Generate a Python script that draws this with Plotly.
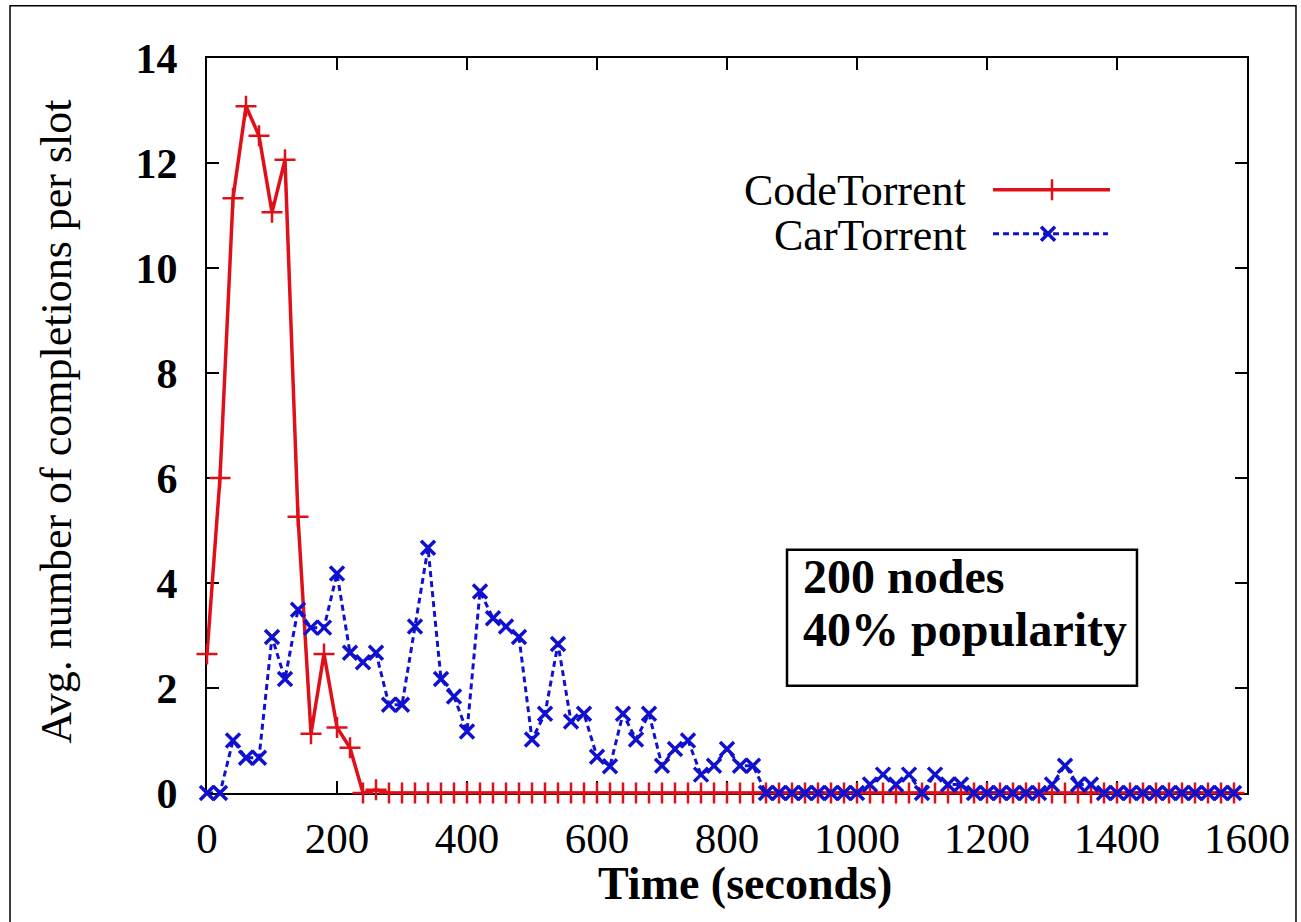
import plotly.graph_objects as go

# ---- data ----
time_s = [0, 20, 40, 60, 80, 100, 120, 140, 160, 180, 200, 220, 240, 260, 280, 300,
          320, 340, 360, 380, 400, 420, 440, 460, 480, 500, 520, 540, 560, 580, 600,
          620, 640, 660, 680, 700, 720, 740, 760, 780, 800, 820, 840, 860, 880, 900,
          920, 940, 960, 980, 1000, 1020, 1040, 1060, 1080, 1100, 1120, 1140, 1160,
          1180, 1200, 1220, 1240, 1260, 1280, 1300, 1320, 1340, 1360, 1380, 1400,
          1420, 1440, 1460, 1480, 1500, 1520, 1540, 1560, 1580]

code_torrent = [2.65, 6.0, 11.33, 13.08, 12.52, 11.06, 12.06, 5.26, 1.13, 2.65,
                1.25, 0.86, 0, 0.06, 0, 0, 0, 0, 0, 0,
                0, 0, 0, 0, 0, 0, 0, 0, 0, 0,
                0, 0, 0, 0, 0, 0, 0, 0, 0, 0,
                0, 0, 0, 0, 0, 0, 0, 0, 0, 0,
                0, 0, 0, 0, 0, 0, 0, 0, 0, 0,
                0, 0, 0, 0, 0, 0, 0, 0, 0, 0,
                0, 0, 0, 0, 0, 0, 0, 0, 0, 0]

car_torrent = [0, 0, 1.0, 0.67, 0.67, 2.97, 2.17, 3.49, 3.15, 3.15,
               4.18, 2.67, 2.49, 2.67, 1.68, 1.68, 3.17, 4.67, 2.17, 1.84,
               1.17, 3.84, 3.33, 3.17, 2.97, 1.02, 1.51, 2.84, 1.36, 1.51,
               0.69, 0.51, 1.51, 1.02, 1.51, 0.52, 0.84, 1.0, 0.35, 0.52,
               0.84, 0.52, 0.52, 0, 0, 0, 0, 0, 0, 0,
               0, 0.16, 0.35, 0.16, 0.35, 0, 0.35, 0.16, 0.16, 0,
               0, 0, 0, 0, 0, 0.16, 0.52, 0.16, 0.16, 0,
               0, 0, 0, 0, 0, 0, 0, 0, 0, 0]

series_names = ["CodeTorrent", "CarTorrent"]
x_ticks = [0, 200, 400, 600, 800, 1000, 1200, 1400, 1600]
y_ticks = [0, 2, 4, 6, 8, 10, 12, 14]
x_title = "Time (seconds)"
y_title = "Avg. number of completions per slot"
box_lines = ["200 nodes", "40% popularity"]

RED = "#e0101a"
BLUE = "#1010d0"
FONT = "Liberation Serif"

red_marker = dict(symbol="cross-thin-open", size=15, color=RED,
                  line=dict(color=RED, width=2.5))
blue_marker = dict(symbol="x-thin-open", size=14, color=BLUE,
                   line=dict(color=BLUE, width=3.5))

fig = go.Figure()

fig.add_trace(go.Scatter(
    x=time_s, y=code_torrent, mode="lines+markers", name=series_names[0],
    line=dict(color=RED, width=3.5), marker=red_marker,
    cliponaxis=False, showlegend=False))

fig.add_trace(go.Scatter(
    x=time_s, y=car_torrent, mode="lines+markers", name=series_names[1],
    line=dict(color=BLUE, width=3, dash="6px,4px"), marker=blue_marker,
    cliponaxis=False, showlegend=False))

# legend samples (on an overlay axis in paper-like units)
leg_x = [0.8125, 0.8087]
leg_y = [0.8208, 0.7610]
fig.add_trace(go.Scatter(
    x=[leg_x[0]], y=[leg_y[0]], xaxis="x2", yaxis="y2", mode="markers",
    marker=red_marker, showlegend=False, hoverinfo="skip"))
fig.add_trace(go.Scatter(
    x=[leg_x[1]], y=[leg_y[1]], xaxis="x2", yaxis="y2", mode="markers",
    marker=blue_marker, showlegend=False, hoverinfo="skip"))

axis_common = dict(
    showline=True, linecolor="black", linewidth=2, mirror="ticks",
    ticks="inside", ticklen=12, tickwidth=2, tickcolor="black",
    showgrid=False, zeroline=False, layer="below traces",
)

fig.update_layout(
    width=1301, height=922,
    margin=dict(l=207, r=54, t=58, b=129),
    paper_bgcolor="white", plot_bgcolor="white",
    font=dict(family=FONT, color="black"),
    xaxis=dict(range=[0, 1600], tickvals=x_ticks, ticktext=[str(v) for v in x_ticks],
               tickfont=dict(family=FONT, size=43, color="black"),
               ticklabelstandoff=6, **axis_common),
    yaxis=dict(range=[0, 14], tickvals=y_ticks, ticktext=[str(v) for v in y_ticks],
               tickfont=dict(family=FONT, size=42, color="black", weight="bold"),
               ticklabelstandoff=19, **axis_common),
    xaxis2=dict(overlaying="x", range=[0, 1], visible=False, fixedrange=True),
    yaxis2=dict(overlaying="y", range=[0, 1], visible=False, fixedrange=True),
    showlegend=False,
)

shapes = [
    # outer frame
    dict(type="rect", xref="paper", yref="paper", x0=-0.1894, x1=1.0471, y0=-0.19, y1=1.0712,
         line=dict(color="black", width=1.5), layer="below"),
    # legend lines
    dict(type="line", xref="paper", yref="paper", x0=0.7558, x1=0.8683, y0=leg_y[0], y1=leg_y[0],
         line=dict(color=RED, width=3.5)),
    dict(type="line", xref="paper", yref="paper", x0=0.7558, x1=0.8663, y0=leg_y[1], y1=leg_y[1],
         line=dict(color=BLUE, width=3, dash="6px,4px")),
    # info box
    dict(type="rect", xref="paper", yref="paper", x0=0.5577, x1=0.8942, y0=0.146, y1=0.331,
         line=dict(color="black", width=2.5), fillcolor="white"),
]

annotations = [
    dict(text=series_names[0], xref="paper", yref="paper", x=0.7317, y=0.8195,
         xanchor="right", yanchor="middle", showarrow=False,
         font=dict(family=FONT, size=44, color="black")),
    dict(text=series_names[1], xref="paper", yref="paper", x=0.7317, y=0.7582,
         xanchor="right", yanchor="middle", showarrow=False,
         font=dict(family=FONT, size=44, color="black")),
    dict(text=box_lines[0], xref="paper", yref="paper", x=0.571, y=0.295,
         xanchor="left", yanchor="middle", showarrow=False,
         font=dict(family=FONT, size=48, color="black", weight="bold")),
    dict(text=box_lines[1], xref="paper", yref="paper", x=0.571, y=0.222,
         xanchor="left", yanchor="middle", showarrow=False,
         font=dict(family=FONT, size=48, color="black", weight="bold")),
    dict(text=x_title, xref="paper", yref="paper", x=0.5173, y=-0.1234,
         xanchor="center", yanchor="middle", showarrow=False,
         font=dict(family=FONT, size=46, color="black", weight="bold")),
    dict(text=y_title, xref="paper", yref="paper", x=-0.1442, y=0.505,
         xanchor="center", yanchor="middle", showarrow=False, textangle=-90,
         font=dict(family=FONT, size=44, color="black")),
]

fig.update_layout(shapes=shapes, annotations=annotations)

# remove the default page margin so the figure fills the window exactly
fig.write_html("out.html",
               config={"displayModeBar": False},
               post_script="document.body.style.margin='0';document.body.style.overflow='hidden';")
